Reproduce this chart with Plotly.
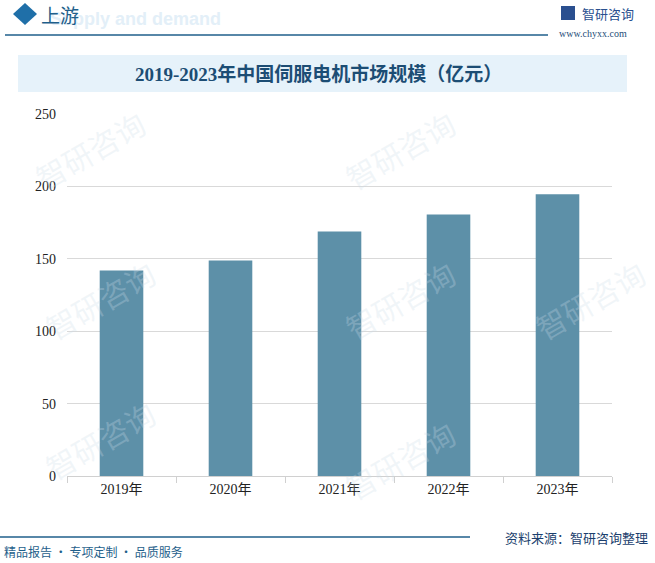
import plotly.graph_objects as go

years = ["2019年", "2020年", "2021年", "2022年", "2023年"]
values = [141.9, 148.8, 168.9, 180.6, 194.5]
y_ticks = [0, 50, 100, 150, 200, 250]

W, H = 655, 563
L, R, T, B = 67, 612, 114, 476


def px(x):
    return (x - L) / (R - L)


def py(y):
    return (B - y) / (B - T)


SERIF = "Liberation Serif, Noto Sans CJK SC, serif"
CJK = "Noto Sans CJK SC, sans-serif"

fig = go.Figure()
fig.add_trace(go.Bar(x=years, y=values, marker_color="#5d90a8", marker_line_width=0,
                     width=0.4, hoverinfo="skip"))

shapes = []
annotations = []

# faint watermarks
for (wx, wy) in [(90, 150), (400, 150), (100, 300), (400, 300), (590, 300), (100, 440), (400, 460)]:
    annotations.append(dict(text="智研咨询", xref="paper", yref="paper", x=px(wx), y=py(wy),
                            showarrow=False, textangle=-30, xanchor="center", yanchor="middle",
                            font=dict(family=CJK, size=30, color="rgba(205,220,232,0.28)")))

# title box
shapes.append(dict(type="rect", xref="paper", yref="paper", x0=px(18), x1=px(627), y0=py(92), y1=py(55),
                   fillcolor="#e6f2fa", line_width=0, layer="below"))
annotations.append(dict(text="<b>2019-2023年中国伺服电机市场规模（亿元）</b>", xref="paper", yref="paper",
                        x=px(318), y=py(74), showarrow=False, xanchor="center", yanchor="middle",
                        font=dict(family=SERIF, size=19, color="#1c4d74")))

# header
shapes.append(dict(type="path", xref="paper", yref="paper",
                   path=f"M {px(13)},{py(14)} L {px(25)},{py(3)} L {px(37)},{py(14)} L {px(25)},{py(25)} Z",
                   fillcolor="#1f6fa8", line_width=0))
annotations.append(dict(text="<b>Supply and demand</b>", xref="paper", yref="paper", x=px(48), y=py(19),
                        showarrow=False, xanchor="left", yanchor="middle",
                        font=dict(family="Liberation Sans, Arial", size=18, color="#e3eff8")))
annotations.append(dict(text="上游", xref="paper", yref="paper", x=px(39), y=py(14),
                        showarrow=False, xanchor="left", yanchor="middle",
                        font=dict(family=CJK, size=19, color="#1f5f8b")))
shapes.append(dict(type="line", xref="paper", yref="paper", x0=px(5), x1=px(548), y0=py(35), y1=py(35),
                   line=dict(color="#1f5f8b", width=1.5)))
# logo
shapes.append(dict(type="rect", xref="paper", yref="paper", x0=px(561), x1=px(575), y0=py(20), y1=py(6),
                   fillcolor="#2a4f8f", line_width=0))
annotations.append(dict(text="智研咨询", xref="paper", yref="paper", x=px(580), y=py(13),
                        showarrow=False, xanchor="left", yanchor="middle",
                        font=dict(family=CJK, size=13, color="#2a4f8f")))
annotations.append(dict(text="www.chyxx.com", xref="paper", yref="paper", x=px(557), y=py(34),
                        showarrow=False, xanchor="left", yanchor="middle",
                        font=dict(family=SERIF, size=10, color="#1f4e79")))

# footer
shapes.append(dict(type="line", xref="paper", yref="paper", x0=px(0), x1=px(470), y0=py(537), y1=py(537),
                   line=dict(color="#1f5f8b", width=1.5)))
annotations.append(dict(text="资料来源：智研咨询整理", xref="paper", yref="paper", x=px(650), y=py(537),
                        showarrow=False, xanchor="right", yanchor="middle",
                        font=dict(family=CJK, size=13, color="#1c3f6e")))
annotations.append(dict(text="精品报告 · 专项定制 · 品质服务", xref="paper", yref="paper", x=px(2), y=py(551),
                        showarrow=False, xanchor="left", yanchor="middle",
                        font=dict(family=CJK, size=12, color="#1f5f8b")))

fig.update_layout(
    width=W, height=H,
    margin=dict(l=L, r=W - R, t=T, b=H - B),
    paper_bgcolor="white", plot_bgcolor="rgba(0,0,0,0)",
    showlegend=False,
    bargap=0.6,
    shapes=shapes, annotations=annotations,
    xaxis=dict(type="category", showgrid=False, showline=True, linecolor="#d0d0d0", linewidth=1,
               ticks="outside", tickson="boundaries", ticklen=6, tickcolor="#d0d0d0",
               tickfont=dict(family=SERIF, size=14, color="#222222")),
    yaxis=dict(range=[0, 250], tickvals=y_ticks, showgrid=True, gridcolor="#d9d9d9", gridwidth=1,
               zeroline=False, showline=False, ticks="", ticklabelstandoff=10,
               tickfont=dict(family=SERIF, size=14, color="#222222")),
)

fig.write_html("out.html", config={"displayModeBar": False},
               post_script="document.body.style.margin='0';document.body.style.padding='0';")
